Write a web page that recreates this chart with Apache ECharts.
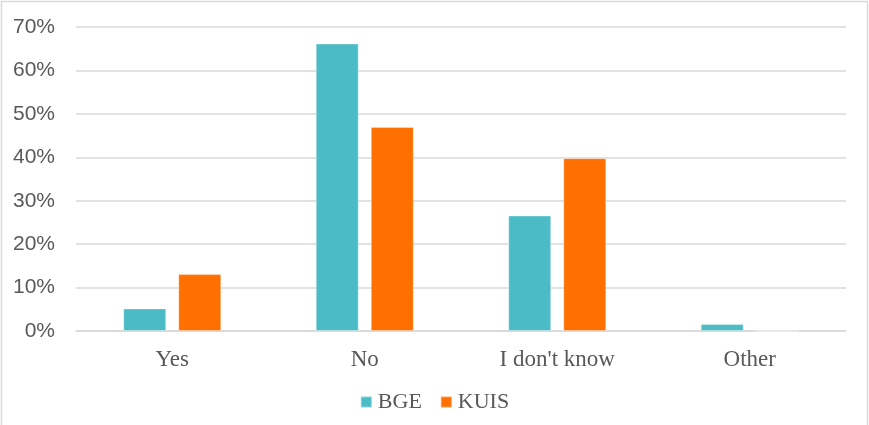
<!DOCTYPE html>
<html>
<head>
<meta charset="utf-8">
<script src="https://cdn.jsdelivr.net/npm/echarts@6/dist/echarts.min.js"></script>
<style>
  html, body { margin: 0; padding: 0; background: #fff; }
  #chart { width: 869px; height: 425px; }
</style>
</head>
<body>
<div id="chart"></div>
<script>
// Survey answers, share of respondents per group (%)
const categories = ['Yes', 'No', "I don't know", 'Other'];
const seriesNames = ['BGE', 'KUIS'];
const bgeValues = [5.2, 66.2, 26.6, 1.6];
const kuisValues = [13.1, 47.0, 39.8, 0];
const yTicks = { min: 0, max: 70, interval: 10 };

const colors = ['#4BBCC6', '#FF7000'];
const textColor = '#595959';
const gridColor = '#D9D9D9';

const chart = echarts.init(document.getElementById('chart'), null, { renderer: 'canvas' });

chart.setOption({
  animation: false,
  color: colors,
  graphic: [{
    type: 'rect',
    shape: { x: 1.5, y: 1.5, width: 866, height: 450 },
    style: { fill: 'none', stroke: gridColor, lineWidth: 1.5 },
    silent: true
  }],
  grid: { left: 76, right: 23, top: 27, bottom: 94, containLabel: false },
  legend: {
    data: seriesNames,
    bottom: 7,
    left: 'center',
    icon: 'rect',
    itemWidth: 11,
    itemHeight: 11,
    itemGap: 18,
    textStyle: { fontFamily: 'Liberation Serif', fontSize: 22, color: textColor, padding: [0, 0, 0, 1] }
  },
  xAxis: {
    type: 'category',
    data: categories,
    axisLine: { show: true, lineStyle: { color: gridColor, width: 1.5 } },
    axisTick: { show: false },
    axisLabel: { fontFamily: 'Liberation Serif', fontSize: 23, color: textColor, margin: 17 }
  },
  yAxis: {
    type: 'value',
    min: yTicks.min,
    max: yTicks.max,
    interval: yTicks.interval,
    axisLine: { show: false },
    axisTick: { show: false },
    axisLabel: {
      fontFamily: 'Liberation Sans', fontSize: 21, color: textColor, margin: 21,
      formatter: v => v + '%'
    },
    splitLine: { lineStyle: { color: gridColor, width: 1.5 } }
  },
  series: [
    {
      name: seriesNames[0], type: 'bar', data: bgeValues,
      barWidth: 43, barGap: '28%',
      itemStyle: { color: colors[0], borderColor: 'rgba(255,255,255,0.35)', borderWidth: 1 }
    },
    {
      name: seriesNames[1], type: 'bar', data: kuisValues,
      barWidth: 43, barGap: '28%',
      itemStyle: { color: colors[1], borderColor: 'rgba(255,255,255,0.35)', borderWidth: 1 }
    }
  ]
});
</script>
</body>
</html>
